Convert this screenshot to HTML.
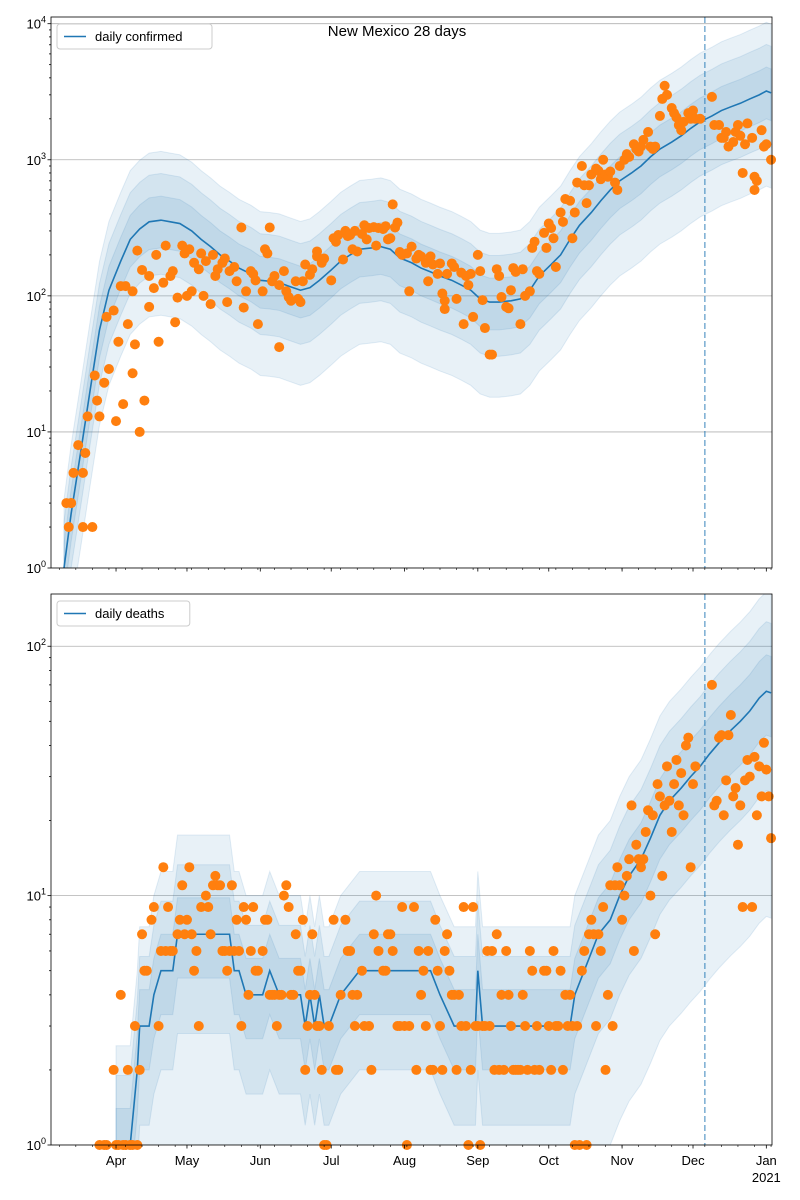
<!DOCTYPE html>
<html><head><meta charset="utf-8"><style>
body{margin:0;background:#fff;overflow:hidden}
svg{display:block;font-family:"Liberation Sans","DejaVu Sans",sans-serif}
</style></head><body>
<svg id="chart" width="800" height="1200" viewBox="0 0 800 1200" xmlns="http://www.w3.org/2000/svg"></svg>
<script>
// ---- data (day index: 0 = Mar 1 2020) ----
const monthLabels = ["Apr","May","Jun","Jul","Aug","Sep","Oct","Nov","Dec","Jan"];
const monthDays = [31,61,92,122,153,184,214,245,275,306];
const forecastDay = 280;
const caseLineDays = [9,12,16,20,24,28,33,37,41,45,50,54,58,63,67,71,75,79,83,88,92,96,100,104,109,113,117,122,126,130,134,139,143,147,151,156,160,164,168,173,177,181,185,189,193,198,202,206,210,215,219,223,227,232,236,240,244,249,253,257,261,266,270,274,278,283,287,291,295,299,303,306,308];
const caseLineVals = [1,2.5,7,20,56,110,180,260,310,350,360,350,340,300,260,230,200,180,160,145,130,128,125,118,110,115,130,155,180,200,220,225,230,220,190,175,160,150,140,130,120,110,95,90,90,92,95,110,140,170,200,260,330,410,500,600,700,800,900,1050,1200,1350,1500,1700,1900,2100,2300,2450,2600,2800,3000,3200,3100];
const caseUp = [1.5,2.2,3.2];
const caseLo = [1.6,2.5,5];
const caseDays = [10,11,12,12,13,15,17,17,18,19,21,22,23,24,26,27,28,30,31,32,33,34,35,36,38,38,39,40,41,42,43,45,45,47,48,49,51,52,54,55,56,57,59,60,61,62,63,64,66,67,68,69,71,72,73,74,76,77,78,79,81,82,84,85,86,88,89,90,91,93,94,95,96,97,98,100,100,102,103,104,105,107,108,109,110,111,113,114,116,116,118,119,122,123,124,125,127,128,129,130,131,132,133,135,136,137,138,140,141,142,144,145,146,147,148,149,150,151,152,154,155,156,158,159,160,162,163,164,165,167,168,169,170,170,171,173,174,175,177,178,179,180,181,182,184,185,186,187,189,190,192,193,194,196,197,198,199,200,202,203,204,206,207,208,209,210,212,213,214,215,216,217,219,220,221,223,224,225,226,228,229,230,231,232,234,235,236,237,238,239,240,242,243,244,246,247,248,250,251,252,253,254,256,257,258,259,261,262,263,264,266,267,268,269,270,271,273,274,275,276,278,283,284,286,287,288,289,290,292,293,294,295,296,297,298,300,301,301,302,304,305,306,308];
const caseVals = [3,2,3,3,5,8,2,5,7,13,2,26,17,13,23,70,29,78,12,46,118,16,118,62,108,27,44,215,10,155,17,83,140,114,200,46,125,234,140,152,64,97,234,205,100,220,108,175,157,205,100,180,87,200,140,157,175,188,90,152,163,128,318,82,108,152,145,130,62,108,220,205,318,128,140,120,42,152,108,98,92,128,95,90,128,170,143,157,195,212,175,188,130,265,250,280,185,300,275,280,220,300,212,285,330,260,315,320,234,315,310,325,260,265,470,318,345,210,200,205,108,230,188,200,195,175,128,195,170,145,173,104,92,80,145,173,163,95,148,62,140,120,145,70,200,152,93,58,37,37,157,140,98,83,81,110,160,150,62,157,100,108,225,250,152,145,290,225,340,315,265,163,410,350,515,500,265,410,680,900,650,480,650,780,860,830,720,1000,780,750,820,680,600,900,1000,1100,1050,1300,1200,1150,1250,1400,1600,1250,1200,1250,2100,2800,3500,3000,2400,2200,2050,1800,1650,1900,2200,2000,2300,2000,2000,2900,1800,1800,1450,1450,1600,1250,1350,1600,1800,1500,800,1300,1850,1450,600,750,700,1650,1250,1300,1000];
const deathLineDays = [31,37,40,41,45,47,50,55,57,79,81,83,86,93,96,100,109,111,113,115,117,119,121,126,134,138,164,168,174,183,184,186,223,225,229,235,240,244,248,253,257,261,265,270,274,278,282,286,291,295,299,303,306,308];
const deathLineVals = [1,1,2,3,3,4,5,5,7,7,5,5,4,4,5,4,4,3,4,3,4,3,3,4,5,5,5,4,3,3,5,3,3,4,5,7,8,10,12,14,17,21,24,27,30,33,37,41,46,50,55,62,66,65];
const deathUp = [1.4,1.9,2.5];
const deathLo = [1.5,2.5,8];
const deathDays = [24,26,27,30,31,32,33,34,35,36,37,38,39,40,41,42,43,44,46,47,49,50,51,52,53,54,55,57,58,59,60,61,62,63,64,65,66,67,69,70,71,72,73,74,75,76,77,78,79,80,81,82,83,84,85,86,87,88,89,90,91,93,94,95,96,97,98,99,100,101,102,103,104,105,106,107,108,109,110,111,112,113,114,115,116,117,118,119,120,121,123,124,125,126,128,129,130,131,132,133,135,136,138,139,140,141,142,144,145,146,147,148,150,151,152,153,154,155,157,158,159,160,161,162,163,164,165,166,167,168,169,170,171,172,173,174,175,176,177,178,179,180,181,182,183,184,185,186,187,188,189,190,191,192,193,194,195,196,197,198,199,200,201,202,203,204,205,206,207,208,209,210,212,213,214,215,216,217,218,219,220,221,222,223,224,225,226,227,228,229,230,231,232,233,234,235,236,237,238,239,240,241,242,243,244,245,246,247,248,249,250,251,252,253,254,255,256,257,258,259,260,261,262,263,264,265,266,267,268,269,270,271,272,273,274,275,276,283,284,285,286,287,288,289,290,291,292,293,294,295,296,297,298,299,300,301,302,303,304,305,306,307,308];
const deathVals = [1,1,1,2,1,1,4,1,1,2,1,1,3,1,2,7,5,5,8,9,3,6,13,6,9,6,6,7,8,11,7,8,13,7,5,6,3,9,10,9,7,11,12,11,11,6,6,5,6,11,6,8,6,3,9,8,4,6,9,5,5,6,8,8,4,4,4,3,4,4,10,11,9,4,4,7,5,5,8,2,3,4,7,4,3,3,2,1,1,3,8,2,2,4,8,6,6,4,3,4,5,3,3,2,7,10,6,5,5,7,7,6,3,3,9,3,1,3,9,2,6,4,5,3,6,2,2,8,5,3,2,6,7,5,4,4,2,4,3,9,3,1,2,9,3,3,1,3,3,6,3,6,2,7,2,4,2,6,4,3,2,2,2,2,4,3,2,6,5,2,3,2,5,5,3,2,6,3,3,5,2,4,3,4,3,1,3,1,5,6,1,7,8,7,3,7,6,9,2,4,11,3,11,13,11,8,10,12,14,23,6,16,14,13,14,18,22,10,21,7,28,25,12,23,33,24,18,28,35,23,31,21,40,43,13,28,33,70,23,24,43,44,21,29,44,53,25,27,16,23,9,29,35,30,9,36,21,33,25,41,32,25,17];

// ---- drawing ----
const NS="http://www.w3.org/2000/svg";
const svg=document.getElementById('chart');
const X0=51,X1=772,D0=3.5,D1=308.4;
const xs=d=>X0+(d-D0)*(X1-X0)/(D1-D0);
function mk(tag,attrs,parent){const e=document.createElementNS(NS,tag);for(const k in attrs)e.setAttribute(k,attrs[k]);(parent||svg).appendChild(e);return e;}

function panel(id,top,bot,logMin,logMax,lDays,lVals,up,lo,pDays,pVals,legendText,showLabels){
  const ys=v=>bot-(Math.log10(Math.max(v,1e-3))-logMin)*(bot-top)/(logMax-logMin);
  const g=mk('g',{});
  
  
  const cp=mk('clipPath',{id:'clip-'+id},g);
  mk('rect',{x:X0,y:top,width:X1-X0,height:bot-top},cp);
  const cp2=mk('clipPath',{id:'clipp-'+id},g);
  mk('rect',{x:X0-6,y:top,width:X1-X0+12,height:bot-top+6},cp2);
  const plot=mk('g',{'clip-path':'url(#clip-'+id+')'},g);
  for(let p=Math.ceil(logMin);p<=Math.floor(logMax);p++){
    const gl=mk('line',{x1:X0,x2:X1,y1:ys(Math.pow(10,p)),y2:ys(Math.pow(10,p)),stroke:'#b0b0b0','stroke-width':0.8},plot);
    
    
  }
  for(let k=2;k>=0;k--){
    let pts=lDays.map((d,i)=>xs(d)+','+ys(lVals[i]*up[k]));
    let low=lDays.map((d,i)=>xs(d)+','+ys(lVals[i]/lo[k])).reverse();
    const b=mk('polygon',{points:pts.concat(low).join(' '),fill:'#1f77b4','fill-opacity':0.1,stroke:'#1f77b4','stroke-opacity':0.12,'stroke-width':1},plot);
    
    
  }
  const ln=mk('polyline',{points:lDays.map((d,i)=>xs(d)+','+ys(lVals[i])).join(' '),fill:'none',stroke:'#1f77b4','stroke-width':1.6},plot);
  
  
  const vl=mk('line',{x1:xs(forecastDay),x2:xs(forecastDay),y1:top,y2:bot,stroke:'#1f77b4','stroke-opacity':0.6,'stroke-dasharray':'6,3','stroke-width':1.5},plot);
  
  
  const pg=mk('g',{'clip-path':'url(#clipp-'+id+')'},g);
  
  
  pDays.forEach((d,i)=>{
    const c=mk('circle',{cx:xs(d),cy:ys(pVals[i]),r:5,fill:'#ff7f0e'},pg);
    
    
  });
  const fr=mk('rect',{x:X0,y:top,width:X1-X0,height:bot-top,fill:'none',stroke:'#000','stroke-width':0.8},g);
  
  
  for(let p=Math.floor(logMin);p<=Math.ceil(logMax);p++){
    for(let m=1;m<10;m++){
      const v=m*Math.pow(10,p),y=ys(v);
      if(y<top-0.5||y>bot+0.5)continue;
      mk('line',{x1:X0,x2:X0-(m==1?3.5:2),y1:y,y2:y,stroke:'#000','stroke-width':0.8},g);
      if(m==1){
        const t=mk('text',{x:X0-5,y:y+5,'text-anchor':'end','font-size':13},g);
        
        
        t.appendChild(document.createTextNode('10'));
        const s=mk('tspan',{'font-size':9,dy:-6},t);s.textContent=String(p);
      }
    }
  }
  monthDays.forEach((d,i)=>{
    mk('line',{x1:xs(d),x2:xs(d),y1:bot,y2:bot+3.5,stroke:'#000','stroke-width':0.8},g);
    if(showLabels){
      const t=mk('text',{x:xs(d),y:bot+20,'text-anchor':'middle','font-size':13},g);
      
      
      t.textContent=monthLabels[i];
    }
  });
  for(let d=7;d<D1;d+=7){mk('line',{x1:xs(d),x2:xs(d),y1:bot,y2:bot+2,stroke:'#000','stroke-width':0.6},g);}
  if(showLabels){
    const t=mk('text',{x:xs(306),y:bot+37,'text-anchor':'middle','font-size':13},g);
    
    
    t.textContent='2021';
  }
  const lg=mk('g',{},g);
  
  
  const w=legendText.length*7.4+44;
  mk('rect',{x:X0+6,y:top+7,width:w,height:25,rx:3,fill:'#fff','fill-opacity':0.8,stroke:'#ccc'},lg);
  mk('line',{x1:X0+13,x2:X0+35,y1:top+19.5,y2:top+19.5,stroke:'#1f77b4','stroke-width':1.6},lg);
  const lt=mk('text',{x:X0+44,y:top+24,'font-size':13},lg);
  
  
  lt.textContent=legendText;
}
panel('cases',17,568,0,Math.log10(11200),caseLineDays,caseLineVals,caseUp,caseLo,caseDays,caseVals,'daily confirmed',false);
panel('deaths',594,1145,0,Math.log10(162),deathLineDays,deathLineVals,deathUp,deathLo,deathDays,deathVals,'daily deaths',true);
const title=mk('text',{x:397,y:36,'text-anchor':'middle','font-size':15});


title.textContent='New Mexico 28 days';
</script>
</body></html>
